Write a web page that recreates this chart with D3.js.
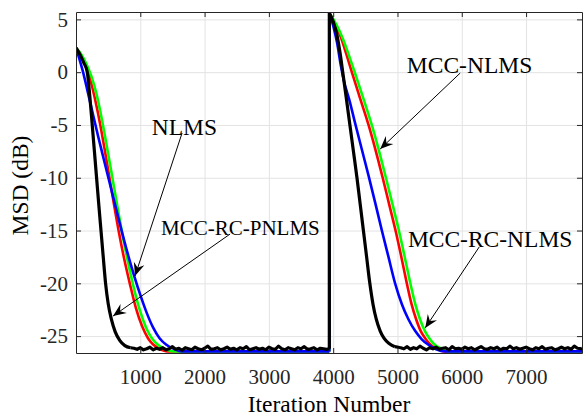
<!DOCTYPE html>
<html>
  <head>
    <meta charset="utf-8">
    <script src="https://d3js.org/d3.v7.min.js"></script>
    <title>MSD curves</title>
    <style>
      body { margin: 0; background: #fff; }
    </style>
  </head>
  <body>
    <svg width="583" height="419"></svg>
    <script>
      const serif = '"Liberation Serif", "Times New Roman", Times, serif';

      // axis ticks
      const xTicks = [1000, 2000, 3000, 4000, 5000, 6000, 7000];
      const yTicks = [5, 0, -5, -10, -15, -20, -25];

      // [iteration, MSD dB], first run (0..3940)
      const nlms1 = [[0,2.3],[50,1.3],[110,0],[180,-1.8],[260,-3.9],[345,-6.1],[430,-8.2],[520,-10.4],[610,-12.6],[700,-14.8],[800,-17.1],[900,-19.2],[1000,-21.1],[1100,-22.8],[1200,-24.2],[1300,-25.2],[1400,-25.8],[1520,-26.2],[1650,-26.45],[3940,-26.45]];
      const mccNlms1 = [[0,2.3],[80,1.6],[160,0.5],[235,-1.0],[305,-2.8],[375,-4.9],[445,-7.3],[515,-9.8],[590,-12.5],[665,-15.1],[750,-17.7],[840,-20.1],[930,-22.3],[1030,-24.1],[1120,-25.2],[1200,-25.8],[1300,-26.2],[1420,-26.45],[3940,-26.45]];
      const mccRcNlms1 = [[0,2.3],[80,1.7],[160,0.8],[240,-0.4],[320,-2.1],[400,-4.4],[470,-6.7],[540,-9.1],[620,-11.9],[705,-14.8],[795,-17.6],[890,-20.2],[990,-22.5],[1090,-24.2],[1180,-25.2],[1270,-25.8],[1380,-26.2],[1520,-26.45],[3940,-26.45]];
      const mccRcPnlms1 = [[0,2.3],[60,1.7],[120,0.9],[175,0],[215,-2.3],[250,-4.8],[285,-7.4],[320,-10],[355,-12.6],[390,-15.1],[425,-17.6],[460,-20],[500,-21.9],[550,-23.4],[610,-24.6],[680,-25.4],[760,-25.9],[850,-26.1]];

      // second run (after the jump at 3940)
      const nlms2 = [[3940,5.6],[4000,4.4],[4060,2.8],[4120,0.6],[4170,-0.9],[4250,-2.6],[4340,-4.8],[4445,-7.3],[4550,-9.8],[4655,-12.4],[4757,-15],[4860,-17.5],[4963,-20],[5070,-22],[5170,-23.4],[5274,-24.5],[5378,-25.3],[5476,-25.8],[5600,-26.25],[5750,-26.45],[7870,-26.45]];
      const mccNlms2 = [[3940,5.6],[4030,4.6],[4120,3.3],[4205,1.7],[4290,0],[4425,-2.6],[4550,-5],[4660,-7.4],[4770,-10],[4870,-12.5],[4970,-15],[5060,-17.5],[5145,-20],[5220,-22],[5290,-23.4],[5360,-24.5],[5430,-25.2],[5510,-25.8],[5620,-26.2],[5720,-26.45],[7870,-26.45]];
      const mccRcNlms2 = [[3940,5.6],[4050,4.5],[4155,3.1],[4250,1.5],[4340,-0.1],[4475,-2.6],[4600,-5],[4710,-7.4],[4820,-10],[4922,-12.5],[5022,-15],[5112,-17.5],[5200,-20],[5278,-22],[5350,-23.4],[5425,-24.5],[5495,-25.2],[5575,-25.8],[5690,-26.2],[5800,-26.45],[7870,-26.45]];
      const mccRcPnlms2 = [[3940,5.6],[4000,4.8],[4056,3.6],[4105,1.9],[4149,0],[4205,-2.5],[4260,-5],[4315,-7.5],[4370,-10],[4420,-12.5],[4470,-15],[4520,-17.5],[4570,-20],[4620,-22],[4670,-23.4],[4730,-24.5],[4790,-25.2],[4870,-25.7],[4960,-26.0]];

      // noisy steady state of the black curve, one value every 50 iterations
      const floorStep = 50;
      const pnlmsFloorStart1 = 900;
      const pnlmsFloor1 = [-26.15,-26.25,-26.1,-26.3,-26.2,-26.05,-26.3,-26.15,-26.25,-26.1,
        -26.3,-26.2,-26.0,-26.25,-26.15,-26.35,-26.1,-26.2,-26.3,-26.05,
        -26.2,-26.3,-26.15,-25.95,-26.25,-26.2,-26.1,-26.3,-26.2,-26.05,
        -26.25,-26.15,-26.3,-26.1,-26.2,-26.0,-26.3,-26.2,-26.1,-26.25,
        -26.15,-26.3,-26.05,-26.2,-26.25,-25.95,-26.2,-26.3,-26.1,-26.2,
        -26.3,-26.1,-26.2,-26.0,-26.25,-26.2,-26.1,-26.3,-26.15,-26.2,-26.25];
      const pnlmsFloorStart2 = 5050;
      const pnlmsFloor2 = [-26.1,-26.2,-26.0,-26.25,-26.1,-26.2,-25.95,-26.15,-26.3,-26.1,
        -26.2,-26.05,-26.25,-26.15,-26.1,-26.3,-26.0,-26.2,-26.15,-26.25,
        -26.05,-26.2,-26.1,-26.3,-26.15,-26.0,-26.2,-26.25,-26.1,-26.2,
        -26.05,-26.3,-26.15,-26.2,-25.95,-26.2,-26.1,-26.25,-26.15,-26.05,
        -26.2,-26.3,-26.1,-26.2,-26.0,-26.25,-26.15,-26.1,-26.3,-26.2,
        -26.05,-26.2,-26.1,-26.25,-25.95,-26.15,-26.2];

      // annotations: label, text anchor point, arrow start, arrow tip (data units)
      const notes = [
        { text: 'NLMS', at: [1178, -5.95], from: [1650, -5.76], to: [918, -19.3], size: 23.5 },
        { text: 'MCC-RC-PNLMS', at: [1323, -15.42], from: [2397, -15.33], to: [576, -23.1], size: 21 },
        { text: 'MCC-NLMS', at: [5146, -0.05], from: [5976, -0.08], to: [4731, -7.28], size: 23.5 },
        { text: 'MCC-RC-NLMS', at: [5162, -16.53], from: [6271, -16.56], to: [5431, -24.23], size: 23.5 }
      ];

      const svg = d3.select('svg');
      const margin = { left: 76, right: 1, top: 12, bottom: 66 };
      const width = +svg.attr('width');
      const height = +svg.attr('height');
      const innerWidth = width - margin.left - margin.right;
      const innerHeight = height - margin.top - margin.bottom;

      const xScale = d3.scaleLinear().domain([0, 7870]).range([0, innerWidth]);
      const yScale = d3.scaleLinear().domain([-26.6, 5.7]).range([innerHeight, 0]);

      const defs = svg.append('defs');
      defs.append('clipPath').attr('id', 'plot-clip')
        .append('rect').attr('width', innerWidth).attr('height', innerHeight);
      defs.append('marker')
          .attr('id', 'head')
          .attr('viewBox', '-14 -7 16 14')
          .attr('markerWidth', 16)
          .attr('markerHeight', 14)
          .attr('markerUnits', 'userSpaceOnUse')
          .attr('refX', 0)
          .attr('refY', 0)
          .attr('orient', 'auto')
        .append('path')
          .attr('d', 'M0,0 L-13,-5.5 L-8.5,0 L-13,5.5 Z')
          .attr('fill', '#000');

      const g = svg.append('g')
        .attr('transform', `translate(${margin.left}, ${margin.top})`);

      // grid
      const gridX = g.append('g')
        .attr('transform', `translate(0, ${innerHeight})`)
        .call(d3.axisBottom(xScale).tickValues(xTicks).tickSize(-innerHeight).tickFormat(''));
      const gridY = g.append('g')
        .call(d3.axisLeft(yScale).tickValues(yTicks).tickSize(-innerWidth).tickFormat(''));
      [gridX, gridY].forEach(a => {
        a.select('.domain').remove();
        a.selectAll('text').remove();
        a.selectAll('line').attr('stroke', '#e3e3e3');
      });

      // lines
      const smooth = d3.line()
        .x(d => xScale(d[0]))
        .y(d => yScale(d[1]))
        .curve(d3.curveMonotoneX);
      const straight = d3.line()
        .x(d => xScale(d[0]))
        .y(d => yScale(d[1]));

      const floor1 = [mccRcPnlms1[mccRcPnlms1.length - 1]]
        .concat(pnlmsFloor1.map((v, i) => [pnlmsFloorStart1 + i * floorStep, v]), [[3940, -26.2]]);
      const floor2 = [mccRcPnlms2[mccRcPnlms2.length - 1]]
        .concat(pnlmsFloor2.map((v, i) => [pnlmsFloorStart2 + i * floorStep, v]), [[7870, -26.15]]);

      const series = [
        { color: '#ff0000', w: 2.6, runs: [mccNlms1, mccNlms2] },
        { color: '#00ff00', w: 2.6, runs: [mccRcNlms1, mccRcNlms2] },
        { color: '#0000ff', w: 2.6, runs: [nlms1, nlms2] },
        { color: '#000000', w: 3.2, runs: [mccRcPnlms1, mccRcPnlms2], floors: [floor1, floor2] }
      ];

      const plot = g.append('g').attr('clip-path', 'url(#plot-clip)');
      const drawPath = (d, s) => plot.append('path')
        .attr('d', d)
        .attr('fill', 'none')
        .attr('stroke', s.color)
        .attr('stroke-width', s.w)
        .attr('stroke-linejoin', 'round');

      series.forEach(s => {
        s.runs.forEach(p => drawPath(smooth(p), s));
        if (s.floors) s.floors.forEach(p => drawPath(straight(p), s));
        // the jump between the two runs
        const end1 = s.floors ? s.floors[0][s.floors[0].length - 1] : s.runs[0][s.runs[0].length - 1];
        drawPath(straight([end1, s.runs[1][0]]), s);
      });

      // box with inward ticks
      const fmt = d => String(d);
      const axes = [
        g.append('g')
          .attr('transform', `translate(0, ${innerHeight})`)
          .call(d3.axisBottom(xScale).tickValues(xTicks).tickSize(-5).tickSizeOuter(0).tickPadding(16).tickFormat(fmt)),
        g.append('g')
          .call(d3.axisTop(xScale).tickValues(xTicks).tickSize(-5).tickSizeOuter(0).tickFormat('')),
        g.append('g')
          .call(d3.axisLeft(yScale).tickValues(yTicks).tickSize(-5).tickSizeOuter(0).tickPadding(8).tickFormat(fmt)),
        g.append('g')
          .attr('transform', `translate(${innerWidth}, 0)`)
          .call(d3.axisRight(yScale).tickValues(yTicks).tickSize(-5).tickSizeOuter(0).tickFormat(''))
      ];
      axes.forEach(a => {
        a.attr('font-family', serif).attr('font-size', 21);
        a.selectAll('line, path').attr('stroke', '#262626');
        a.selectAll('text').filter(function () { return this.textContent === ''; }).remove();
        a.selectAll('text').attr('fill', '#262626');
      });

      // annotations
      notes.forEach(n => {
        g.append('line')
          .attr('x1', xScale(n.from[0])).attr('y1', yScale(n.from[1]))
          .attr('x2', xScale(n.to[0])).attr('y2', yScale(n.to[1]))
          .attr('stroke', '#000')
          .attr('stroke-width', 1)
          .attr('marker-end', 'url(#head)');
        g.append('text')
          .attr('x', xScale(n.at[0]))
          .attr('y', yScale(n.at[1]))
          .attr('font-family', serif)
          .attr('font-size', n.size)
          .attr('fill', '#000')
          .text(n.text);
      });

      // axis labels
      svg.append('text')
        .attr('x', margin.left + innerWidth / 2)
        .attr('y', 411.5)
        .attr('text-anchor', 'middle')
        .attr('font-family', serif)
        .attr('font-size', 23.5)
        .text('Iteration Number');
      svg.append('text')
        .attr('transform', `translate(28, ${margin.top + innerHeight / 2 + 3}) rotate(-90)`)
        .attr('text-anchor', 'middle')
        .attr('font-family', serif)
        .attr('font-size', 23.5)
        .text('MSD (dB)');
    </script>
  </body>
</html>
